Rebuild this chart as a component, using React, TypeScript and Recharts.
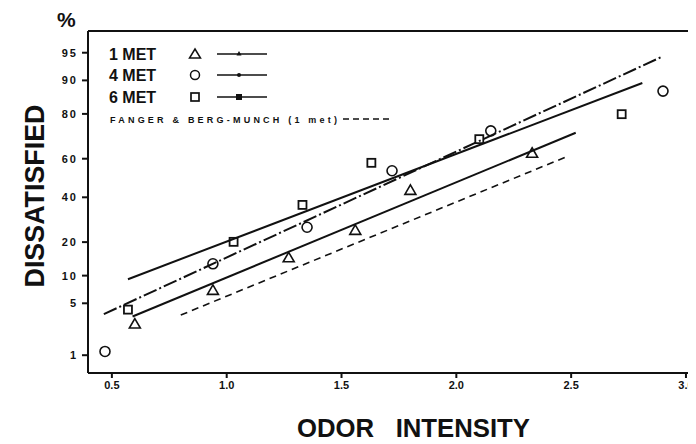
import { ComposedChart, Line, Scatter, XAxis, YAxis, Label } from 'recharts';

// probability-paper y axis: tick labels in % dissatisfied
const pctTicks = [1, 5, 10, 20, 40, 60, 80, 90, 95];
const intensityTicks = [0.5, 1.0, 1.5, 2.0, 2.5, 3.0];

// measured points (odor intensity, % dissatisfied)
const met1Intensity = [0.6, 0.94, 1.27, 1.56, 1.8, 2.33];
const met1Pct = [2.8, 7.1, 14.9, 24.8, 43.8, 63.0];
const met4Intensity = [0.47, 0.94, 1.35, 1.72, 2.15, 2.9];
const met4Pct = [1.14, 13.0, 25.9, 53.8, 73.2, 87.3];
const met6Intensity = [0.57, 1.03, 1.33, 1.63, 2.1, 2.72];
const met6Pct = [4.2, 20.1, 36.2, 57.9, 69.5, 79.9];

// fitted lines, end points only
const met1LineX = [0.59, 2.52];
const met1LinePct = [3.45, 72.4];
const met4LineX = [0.465, 2.9];
const met4LinePct = [3.7, 94.5];
const met6LineX = [0.57, 2.81];
const met6LinePct = [9.2, 89.4];
const fangerLineX = [0.8, 2.48];
const fangerLinePct = [3.6, 61.0];

const legendLabels = ['1 MET', '4 MET', '6 MET'];
const fangerLabel = 'FANGER & BERG-MUNCH (1 met)';

const INK = '#111';
const FONT = '"Liberation Sans", Arial, sans-serif';

// inverse normal cdf (Acklam), used as the probit scale of the y axis
function probit(pct: number) {
  const p = pct / 100;
  const a = [-39.69683028665376, 220.9460984245205, -275.9285104469687, 138.357751867269, -30.66479806614716, 2.506628277459239];
  const b = [-54.47609879822406, 161.5858368580409, -155.6989798598866, 66.80131188771972, -13.28068155288572];
  const c = [-0.007784894002430293, -0.3223964580411365, -2.400758277161838, -2.549732539343734, 4.374664141464968, 2.938163982698783];
  const d = [0.007784695709041462, 0.3224671290700398, 2.445134137142996, 3.754408661907416];
  const plow = 0.02425;
  if (p < plow) {
    const q = Math.sqrt(-2 * Math.log(p));
    return (((((c[0] * q + c[1]) * q + c[2]) * q + c[3]) * q + c[4]) * q + c[5]) / ((((d[0] * q + d[1]) * q + d[2]) * q + d[3]) * q + 1);
  }
  if (p > 1 - plow) {
    const q = Math.sqrt(-2 * Math.log(1 - p));
    return -(((((c[0] * q + c[1]) * q + c[2]) * q + c[3]) * q + c[4]) * q + c[5]) / ((((d[0] * q + d[1]) * q + d[2]) * q + d[3]) * q + 1);
  }
  const q = p - 0.5;
  const r = q * q;
  return ((((((a[0] * r + a[1]) * r + a[2]) * r + a[3]) * r + a[4]) * r + a[5]) * q) / (((((b[0] * r + b[1]) * r + b[2]) * r + b[3]) * r + b[4]) * r + 1);
}

const rows = (xs: number[], ps: number[]) => xs.map((x, i) => ({ x, z: probit(ps[i]), pct: ps[i] }));

const yTicks = pctTicks.map(probit);
const X_DOMAIN: [number, number] = [0.396, 3.035];
const Y_DOMAIN: [number, number] = [-2.56, 1.93];

const Triangle = (p: any) => (
  <path d={`M${p.cx},${p.cy - 5} L${p.cx + 5.5},${p.cy + 4.5} L${p.cx - 5.5},${p.cy + 4.5} Z`} fill="none" stroke={INK} strokeWidth={1.6} />
);
const Circle = (p: any) => <circle cx={p.cx} cy={p.cy} r={5} fill="none" stroke={INK} strokeWidth={1.6} />;
const Square = (p: any) => <rect x={p.cx - 4} y={p.cy - 4} width={8} height={8} fill="none" stroke={INK} strokeWidth={1.8} />;

const YTick = (props: any) => {
  const i = yTicks.findIndex((t) => Math.abs(t - props.payload.value) < 1e-6);
  return (
    <g>
      <text x={Number(props.x)} y={Number(props.y)} dy={4} textAnchor="end" fontFamily={FONT} fontSize={11} fontWeight={700} fill={INK} letterSpacing={2}>
        {i >= 0 ? pctTicks[i] : ''}
      </text>
    </g>
  );
};

// titles and the in-plot legend, laid out in page pixels (chart sits 8px in, after the body margin)
function Titles() {
  const rowsY = [54, 75, 97];
  const marks = ['tri', 'circle', 'square'];
  return (
    <g transform="translate(-8,-8)" fontFamily={FONT} fill={INK}>
      <text x={57} y={27} fontSize={21} fontWeight={700}>%</text>
      <text x={44} y={196} transform="rotate(-90 44 196)" textAnchor="middle" fontSize={28} fontWeight={700} textLength={183} lengthAdjust="spacingAndGlyphs">
        DISSATISFIED
      </text>
      {legendLabels.map((label, i) => {
        const y = rowsY[i];
        const m = marks[i];
        return (
          <g key={label}>
            <text x={109} y={y + 6} fontSize={16} fontWeight={700}>{label}</text>
            {m === 'tri' && <path d={`M195,${y - 5} L200.5,${y + 4} L189.5,${y + 4} Z`} fill="none" stroke={INK} strokeWidth={1.5} />}
            {m === 'circle' && <circle cx={195} cy={y} r={4.5} fill="none" stroke={INK} strokeWidth={1.5} />}
            {m === 'square' && <rect x={191} y={y - 4} width={8} height={8} fill="none" stroke={INK} strokeWidth={1.7} />}
            <line x1={217} x2={267} y1={y} y2={y} stroke={INK} strokeWidth={1.6} />
            {m === 'tri' && <path d={`M239,${y - 3} L241.5,${y + 1.5} L236.5,${y + 1.5} Z`} fill={INK} />}
            {m === 'circle' && <circle cx={239} cy={y} r={2} fill={INK} />}
            {m === 'square' && <rect x={236} y={y - 3} width={6} height={6} fill={INK} />}
          </g>
        );
      })}
      <text x={110} y={123} fontSize={9} fontWeight={700} textLength={227} lengthAdjust="spacing">{fangerLabel}</text>
      <line x1={343} x2={392} y1={119} y2={119} stroke={INK} strokeWidth={1.4} strokeDasharray="6 4" />
    </g>
  );
}

const XTitle = () => (
  <text x={289} y={429} fontFamily={FONT} fontSize={26} fontWeight={700} fill={INK} textLength={233} lengthAdjust="spacingAndGlyphs" xmlSpace="preserve">
    ODOR   INTENSITY
  </text>
);

export default function App() {
  return (
    <div style={{ width: 688, height: 436 }}>
      <ComposedChart width={688} height={436} margin={{ top: 22, right: 1, bottom: 41, left: 20 }}>
        <XAxis
          dataKey="x"
          type="number"
          domain={X_DOMAIN}
          ticks={intensityTicks}
          height={30}
          stroke={INK}
          strokeWidth={2}
          tickSize={5}
          tickMargin={3}
          tickFormatter={(v: number) => v.toFixed(1)}
          tick={{ fontSize: 11, fontWeight: 700, fill: INK, fontFamily: FONT }}
        >
          <Label content={XTitle} />
        </XAxis>
        <XAxis xAxisId="top" orientation="top" type="number" domain={X_DOMAIN} height={1} stroke={INK} strokeWidth={2} tick={false} tickLine={false} />
        <YAxis
          dataKey="z"
          type="number"
          domain={Y_DOMAIN}
          ticks={yTicks}
          width={60}
          stroke={INK}
          strokeWidth={2}
          tickSize={6}
          tickMargin={4}
          tick={YTick}
        >
          <Label content={Titles} />
        </YAxis>
        <YAxis yAxisId="right" orientation="right" type="number" domain={Y_DOMAIN} width={1} stroke="#555" strokeWidth={1} tick={false} tickLine={false} />

        <Line data={rows(fangerLineX, fangerLinePct)} dataKey="z" type="linear" stroke={INK} strokeWidth={1.6} strokeDasharray="7 5" dot={false} isAnimationActive={false} />
        <Line data={rows(met1LineX, met1LinePct)} dataKey="z" type="linear" stroke={INK} strokeWidth={2} dot={false} isAnimationActive={false} />
        <Line data={rows(met4LineX, met4LinePct)} dataKey="z" type="linear" stroke={INK} strokeWidth={2} strokeDasharray="14 3 2 3" dot={false} isAnimationActive={false} />
        <Line data={rows(met6LineX, met6LinePct)} dataKey="z" type="linear" stroke={INK} strokeWidth={2} dot={false} isAnimationActive={false} />

        <Scatter data={rows(met1Intensity, met1Pct)} dataKey="z" shape={Triangle} isAnimationActive={false} />
        <Scatter data={rows(met4Intensity, met4Pct)} dataKey="z" shape={Circle} isAnimationActive={false} />
        <Scatter data={rows(met6Intensity, met6Pct)} dataKey="z" shape={Square} isAnimationActive={false} />
      </ComposedChart>
    </div>
  );
}
